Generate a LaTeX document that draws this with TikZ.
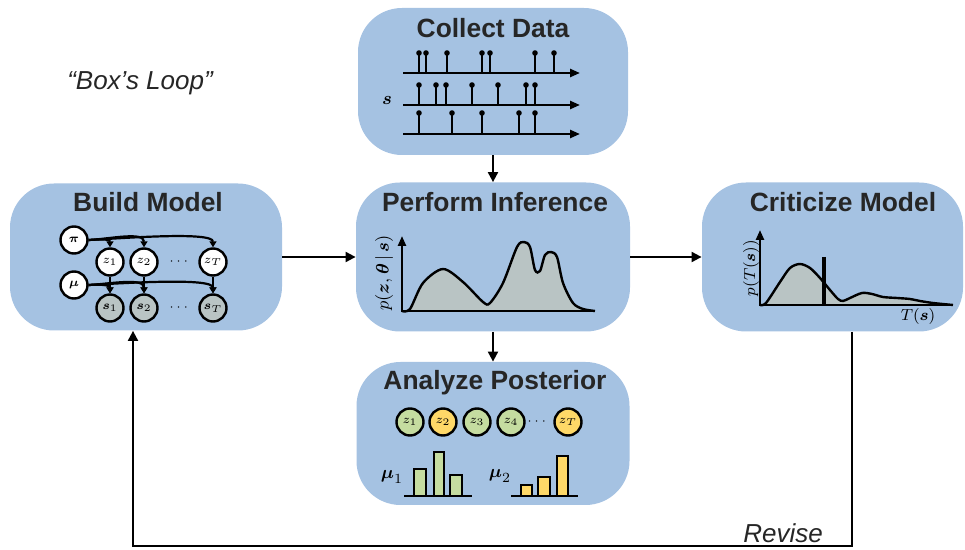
\documentclass[tikz,border=0pt]{standalone}
\usepackage{amsmath}
\usepackage{fontspec}
\setmainfont{Liberation Sans}
\usetikzlibrary{arrows.meta}

\definecolor{stageblue}{RGB}{165,194,226}
\definecolor{densgray}{RGB}{185,196,196}
\definecolor{zgreen}{RGB}{197,220,160}
\definecolor{zyellow}{RGB}{254,216,104}

\tikzset{
  stage/.style={fill=stageblue, rounded corners=22pt, inner sep=0pt},
  stagetitle/.style={font=\fontsize{13.2}{15}\selectfont\bfseries, text=black!85},
  note/.style={font=\fontsize{13}{15}\selectfont\itshape, text=black!85},
  flow/.style={line width=1pt, -{Triangle[length=5pt,width=5pt]}},
  var/.style={circle, draw, line width=1.2pt, fill=white, minimum size=13.5pt, inner sep=0pt,
    font=\fontsize{6}{7}\selectfont},
  obs/.style={var, fill=densgray},
  link/.style={line width=1.1pt, -{Triangle[length=3pt,width=3.5pt]}},
  hookdown/.style={out=3, in=90, in max distance=8pt, out max distance=18pt},
  axisline/.style={line width=1.2pt},
  stem/.style={line width=1pt},
  curve/.style={line width=1.2pt, fill=densgray},
  barbox/.style={line width=1.2pt},
  plotlabel/.style={font=\fontsize{9.5}{11}\selectfont}
}

\begin{document}
\begin{tikzpicture}[x=0.5pt,y=0.5pt]
    \useasboundingbox (0,0) rectangle (965,-550);
    % the five stages
    \node[stage, minimum width=135pt, minimum height=73.5pt] (collect) at (493,-81.5) {};
    \node[stage, minimum width=136pt, minimum height=73.5pt] (build) at (146,-257) {};
    \node[stage, minimum width=137pt, minimum height=74.5pt] (infer) at (493,-257) {};
    \node[stage, minimum width=130.5pt, minimum height=74.5pt] (critic) at (832.5,-257) {};
    \node[stage, minimum width=136.5pt, minimum height=71.5pt] (analyze) at (493,-433.5) {};
    \node[stagetitle] (collecttitle) at (493,-28) {Collect Data};
    \node[stagetitle] (buildtitle) at (148,-202) {Build Model};
    \node[stagetitle] (infertitle) at (495,-202) {Perform Inference};
    \node[stagetitle] (critictitle) at (843,-202) {Criticize Model};
    \node[stagetitle] (analyzetitle) at (495,-383) {Analyze Posterior};
    % loop arrows
    \draw[flow] (collect) -- (infer);
    \draw[flow] (infer) -- (analyze);
    \draw[flow] (build) -- (infer);
    \draw[flow] (infer) -- (critic);
    \coordinate (revright) at (852,-546);
    \coordinate (revleft) at (133,-546);
    \draw[flow] (critic.south -| revright) -- (revright) -- (revleft) -- (build.south -| revleft);
    \node[note, anchor=east] (revise) at (830,-533) {Revise};
    \node[note] (boxloop) at (140,-83) {“Box’s Loop”};

    % collect data: spike trains
    \node[plotlabel] (datalabel) at (387,-101) {$\boldsymbol{s}$};
    \foreach \y in {73,105,134}
      \draw[axisline, -{Triangle[length=5pt,width=4pt]}] (403,-\y) -- (580,-\y);
    \foreach \x in {419,426,447,482,490,535,554} {
      \draw[stem] (\x,-73) -- (\x,-53);
      \fill (\x,-53) circle (2.8);
    }
    \foreach \x in {419,436,446,472,498,526,535} {
      \draw[stem] (\x,-105) -- (\x,-85);
      \fill (\x,-85) circle (2.8);
    }
    \foreach \x in {419,452,482,519,535} {
      \draw[stem] (\x,-134) -- (\x,-113);
      \fill (\x,-113) circle (2.8);
    }

    % build model: graphical model
    \node[var] (pi) at (74,-240) {$\boldsymbol{\pi}$};
    \node[var] (mu) at (74,-285) {$\boldsymbol{\mu}$};
    \node[var] (z1) at (110,-262) {$z_1$};
    \node[var] (z2) at (144,-262) {$z_2$};
    \node[var] (zT) at (213,-262) {$z_T$};
    \node[obs] (s1) at (110,-308) {$\boldsymbol{s}_1$};
    \node[obs] (s2) at (144,-308) {$\boldsymbol{s}_2$};
    \node[obs] (sT) at (213,-308) {$\boldsymbol{s}_T$};
    \node[font=\fontsize{6}{7}\selectfont] (zdots) at (180,-262) {$\cdots$};
    \node[font=\fontsize{6}{7}\selectfont] (sdots) at (180,-308) {$\cdots$};
    \foreach \n in {z1,z2,zT}
      \draw[link] (pi.east) to[hookdown] (\n.north);
    \foreach \n in {s1,s2,sT}
      \draw[link] (mu.east) to[hookdown] (\n.north);
    \draw[link] (z1) -- (s1);
    \draw[link] (z2) -- (s2);
    \draw[link] (zT) -- (sT);

    % perform inference: posterior density
    \draw[curve] plot[smooth] coordinates {(402,-311) (410,-309) (423,-283) (443,-269)
      (463,-282) (483,-302) (490,-303) (503,-283) (517,-247) (524,-242) (530,-247)
      (535,-270) (540,-271) (545,-255) (551,-252) (557,-257) (563,-283) (573,-303)
      (583,-309) (595,-311)};
    \draw[axisline, {Triangle[length=5pt,width=4pt]}-] (402,-236) -- (402,-311) -- (595,-311);
    \node[plotlabel, rotate=90] (inferlabel) at (384,-273) {$p(\boldsymbol{z},\boldsymbol{\theta}\,|\,\boldsymbol{s})$};

    % criticize model: posterior predictive check
    \draw[curve] plot[smooth] coordinates {(760,-305) (766,-303) (780,-282) (790,-268)
      (800,-264) (810,-268) (820,-278) (830,-290) (838,-299) (843,-301) (850,-298)
      (862,-293) (872,-294) (883,-297) (897,-298) (910,-299) (920,-301) (933,-303)
      (953,-305)};
    \draw[line width=1.7pt] (824,-257) -- (824,-305);
    \draw[axisline, {Triangle[length=5pt,width=4pt]}-] (760,-230) -- (760,-305) -- (953,-305);
    \node[plotlabel, font=\fontsize{8.5}{10}\selectfont, rotate=90] (criticlabel) at (751,-268) {$p(T(\boldsymbol{s}))$};
    \node[plotlabel, font=\fontsize{8.5}{10}\selectfont] (statlabel) at (918,-317) {$T(\boldsymbol{s})$};

    % analyze posterior: assignments and cluster means
    \node[var, fill=zgreen] (a1) at (410,-422) {$z_1$};
    \node[var, fill=zyellow] (a2) at (443,-422) {$z_2$};
    \node[var, fill=zgreen] (a3) at (477,-422) {$z_3$};
    \node[var, fill=zgreen] (a4) at (511,-422) {$z_4$};
    \node[font=\fontsize{6}{7}\selectfont] (adots) at (538,-422) {$\cdots$};
    \node[var, fill=zyellow] (aT) at (568,-422) {$z_T$};
    \node[plotlabel] (mu1label) at (392,-477) {$\boldsymbol{\mu}_1$};
    \node[plotlabel] (mu2label) at (500,-476) {$\boldsymbol{\mu}_2$};
    \draw[barbox, fill=zgreen] (414,-496) rectangle (426,-469);
    \draw[barbox, fill=zgreen] (434,-496) rectangle (444,-452);
    \draw[barbox, fill=zgreen] (450,-496) rectangle (462,-475);
    \draw[barbox, fill=zyellow] (521,-496) rectangle (532,-485);
    \draw[barbox, fill=zyellow] (538,-496) rectangle (550,-477);
    \draw[barbox, fill=zyellow] (557,-496) rectangle (568,-456);
    \draw[axisline] (404,-496) -- (472,-496);
    \draw[axisline] (511,-496) -- (578,-496);
\end{tikzpicture}
\end{document}
